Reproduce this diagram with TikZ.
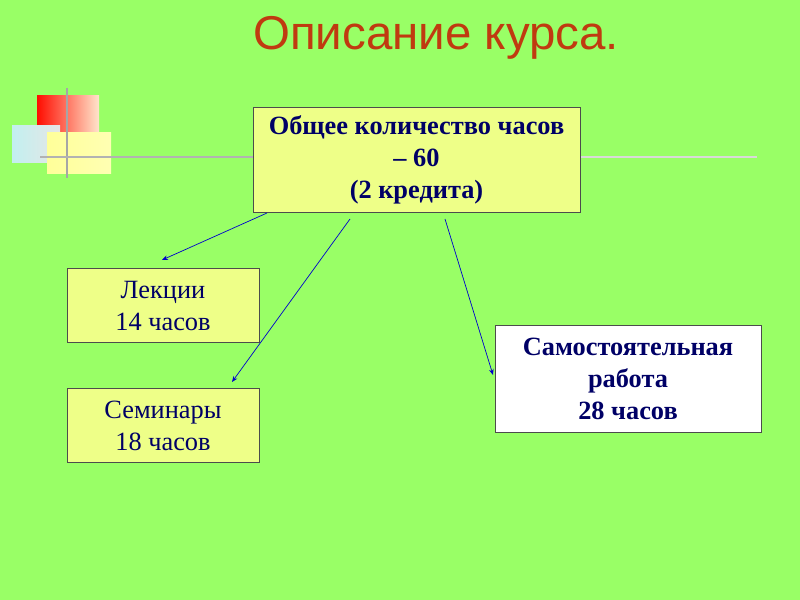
\documentclass[tikz,border=0pt]{standalone}
\usepackage{fontspec}
\usetikzlibrary{arrows.meta}
\setmainfont{Liberation Serif}
\newfontfamily\titlefont{Liberation Sans}
\begin{document}
\begin{tikzpicture}[x=0.03cm,y=-0.03cm,
  box/.style={draw=black!70,line width=0.5pt,fill=boxy},
  lbl/.style={text=txt,align=center,font=\fontsize{22.5}{27}\selectfont},
  arr/.style={draw=blue!80!black,line width=0.6pt,-{Stealth[length=5pt,width=4pt]}}]
\definecolor{bg}{HTML}{99FF66}
\definecolor{boxy}{HTML}{EEFF88}
\definecolor{txt}{HTML}{000066}
\definecolor{ttl}{HTML}{C03A10}
\fill[bg] (0,0) rectangle (800,600);
\useasboundingbox (0,0) rectangle (800,600);
% decoration
\shade[left color=red!90!orange,right color=orange!20!white] (37,96) rectangle (99,133);
\shade[left color=gray!40!cyan!30,right color=white!80!gray] (12,126) rectangle (60,163);
\shade[left color=yellow!40,right color=white!70!yellow] (47,133) rectangle (111,174);
\draw[gray!70,line width=1.2pt] (67,88) -- (67,178);
\draw[gray!60,line width=1.5pt] (40,157) -- (253,157);
\draw[white!70!gray,line width=1.5pt] (580,157) -- (757,157);
\node[text=ttl,font=\titlefont\fontsize{40.5}{42}\selectfont] (t) at (436,38) {Описание курса.};
\draw[box] (253,107) rectangle (580,212);
\node[lbl,font=\bfseries\fontsize{22.5}{27}\selectfont] (mt) at (416.5,160) {Общее количество часов\\– 60\\(2 кредита)};
\coordinate (m1) at (267,213);
\coordinate (m2) at (350,219);
\coordinate (m3) at (445,219);
\draw[box] (67,268) rectangle (259,342);
\node[lbl] (l) at (163,306) {Лекции\\14 часов};
\draw[box] (67,388) rectangle (259,462);
\node[lbl] (s) at (163,426) {Семинары\\18 часов};
\draw[box,fill=white] (495,325) rectangle (761,432);
\node[lbl,font=\bfseries\fontsize{22.5}{27}\selectfont] (w) at (628,379) {Самостоятельная\\работа\\28 часов};
\coordinate (l1) at (162,260);
\coordinate (s1) at (232,382);
\coordinate (w1) at (493,375);
\draw[arr] (m1) -- (l1);
\draw[arr] (m2) -- (s1);
\draw[arr] (m3) -- (w1);
\end{tikzpicture}
\end{document}
